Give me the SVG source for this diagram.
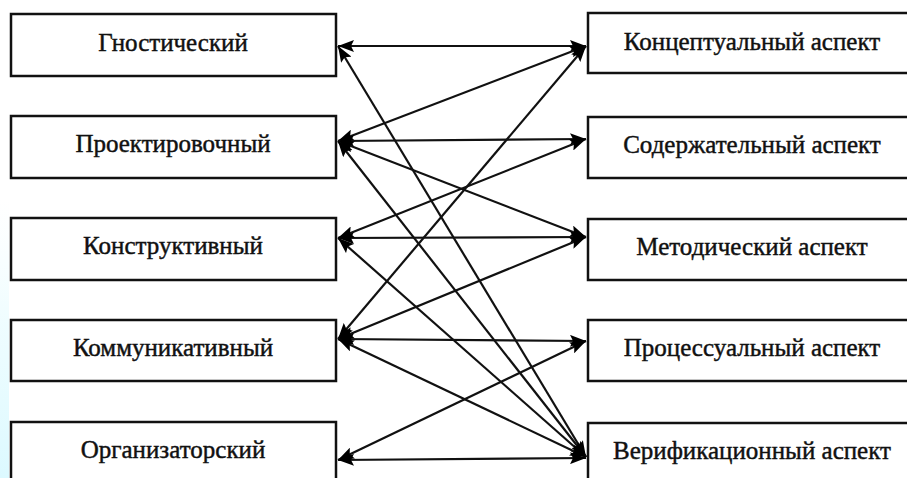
<svg xmlns="http://www.w3.org/2000/svg" width="907" height="478" viewBox="0 0 907 478">
<defs>
<linearGradient id="scan" x1="0" y1="0" x2="0" y2="1">
<stop offset="0" stop-color="#eafcff" stop-opacity="0"/>
<stop offset="0.45" stop-color="#e3fbff" stop-opacity="0.6"/>
<stop offset="1" stop-color="#dcf9ff" stop-opacity="1"/>
</linearGradient>
<marker id="ah" viewBox="0 0 16 12" refX="16" refY="6" markerWidth="16" markerHeight="12" markerUnits="userSpaceOnUse" orient="auto-start-reverse">
<path d="M0,0 L16,6 L0,12 L3,6 Z" fill="#000"/>
</marker>
<style>
.box{fill:#fff;stroke:#111;stroke-width:2.5}
.lbl{font-family:"Liberation Serif","Times New Roman",serif;font-size:25px;fill:#111;stroke:#111;stroke-width:0.45;text-anchor:middle}
.c line{stroke:#111;stroke-width:2.2;marker-start:url(#ah);marker-end:url(#ah)}
</style>
</defs>
<rect x="0" y="0" width="907" height="478" fill="#fff"/>
<rect x="0" y="200" width="9" height="278" fill="url(#scan)"/>
<g id="n-gnost"><rect class="box" x="11" y="14" width="325" height="62"/><text class="lbl" x="173" y="51">Гностический</text></g>
<g id="n-proekt"><rect class="box" x="11" y="116" width="325" height="62"/><text class="lbl" x="173" y="152">Проектировочный</text></g>
<g id="n-konstr"><rect class="box" x="11" y="218" width="325" height="62"/><text class="lbl" x="173" y="254">Конструктивный</text></g>
<g id="n-kommun"><rect class="box" x="11" y="320" width="325" height="61"/><text class="lbl" x="173" y="356">Коммуникативный</text></g>
<g id="n-organ"><rect class="box" x="11" y="422" width="325" height="70"/><text class="lbl" x="173" y="458">Организаторский</text></g>
<g id="n-koncept"><rect class="box" x="588" y="13" width="330" height="60"/><text class="lbl" x="752" y="50">Концептуальный аспект</text></g>
<g id="n-soderzh"><rect class="box" x="588" y="117" width="330" height="61"/><text class="lbl" x="752" y="153">Содержательный аспект</text></g>
<g id="n-metod"><rect class="box" x="588" y="219" width="330" height="61"/><text class="lbl" x="752" y="255">Методический аспект</text></g>
<g id="n-process"><rect class="box" x="588" y="320" width="330" height="61"/><text class="lbl" x="752" y="356">Процессуальный аспект</text></g>
<g id="n-verif"><rect class="box" x="588" y="423" width="330" height="70"/><text class="lbl" x="752" y="459">Верификационный аспект</text></g>
<g id="connectors" class="c">
<line x1="338" y1="46" x2="586" y2="46"/>
<line x1="338" y1="46" x2="586" y2="457"/>
<line x1="338" y1="141" x2="586" y2="46"/>
<line x1="338" y1="141" x2="586" y2="139"/>
<line x1="338" y1="141" x2="586" y2="237"/>
<line x1="338" y1="141" x2="586" y2="457"/>
<line x1="338" y1="238" x2="586" y2="237"/>
<line x1="338" y1="238" x2="586" y2="139"/>
<line x1="338" y1="238" x2="586" y2="457"/>
<line x1="338" y1="339" x2="586" y2="46"/>
<line x1="338" y1="339" x2="586" y2="237"/>
<line x1="338" y1="339" x2="586" y2="341"/>
<line x1="338" y1="339" x2="586" y2="457"/>
<line x1="338" y1="460" x2="586" y2="341"/>
<line x1="338" y1="460" x2="586" y2="458"/>
</g>
</svg>
